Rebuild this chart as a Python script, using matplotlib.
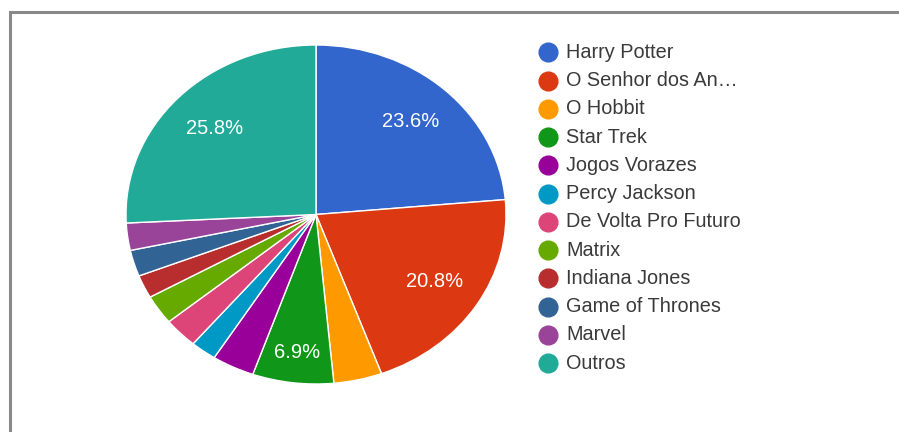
import matplotlib.pyplot as plt
from matplotlib.patches import Rectangle
import numpy as np

# dados (percentuais)
nomes = ['Harry Potter', 'O Senhor dos An\u2026', 'O Hobbit', 'Star Trek',
         'Jogos Vorazes', 'Percy Jackson', 'De Volta Pro Futuro', 'Matrix',
         'Indiana Jones', 'Game of Thrones', 'Marvel', 'Outros']
valores = [23.6, 20.8, 4.1, 6.9, 3.6, 2.2, 2.9, 2.8, 2.2, 2.5, 2.6, 25.8]
cores = ['#3366cc', '#dc3912', '#ff9900', '#109618', '#990099', '#0099c6',
         '#dd4477', '#66aa00', '#b82e2e', '#316395', '#994499', '#22aa99']

W, H = 899, 432
fig = plt.figure(figsize=(W / 100, H / 100), dpi=100)
plt.rcParams['font.family'] = ['Liberation Sans', 'DejaVu Sans']

# moldura cinza (so aparece em cima e a esquerda)
fig.patches.append(Rectangle((10 / W, -0.2), 1.2, (H - 12) / H + 0.2,
                             transform=fig.transFigure, fill=False,
                             edgecolor='#888888', linewidth=2.2))

# pizza (esticada na horizontal, como na imagem)
ax = fig.add_axes([126 / W, (H - 384) / H, 380 / W, 339 / H])
wedges, _ = ax.pie(valores, colors=cores, startangle=90, counterclock=False,
                   wedgeprops={'edgecolor': 'white', 'linewidth': 1.0})
ax.set_aspect('auto')
ax.set_xlim(-1, 1)
ax.set_ylim(-1, 1)

# rotulos so nas fatias grandes
for w, v in zip(wedges, valores):
    if v < 5:
        continue
    ang = np.deg2rad((w.theta1 + w.theta2) / 2)
    d = 0.82 if v < 10 else 0.74
    ax.text(d * np.cos(ang), d * np.sin(ang), f'{v}%', color='white',
            fontsize=14.5, ha='center', va='center')

# legenda
leg = fig.add_axes([0, 0, 1, 1])
leg.set_xlim(0, W)
leg.set_ylim(H, 0)
leg.axis('off')
for i, (n, c) in enumerate(zip(nomes, cores)):
    y = 52.3 + i * 28.27
    leg.plot(548, y, 'o', color=c, markersize=13.5)
    leg.text(566, y, n, fontsize=14.3, color='#3a3a3a', va='center')

fig.savefig('out.png', dpi=100)
